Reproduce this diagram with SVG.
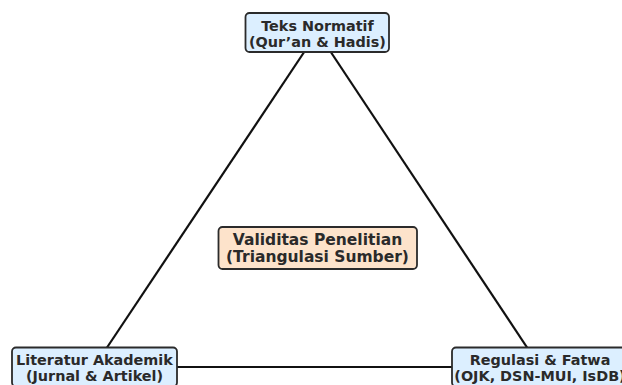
<svg xmlns="http://www.w3.org/2000/svg" width="622" height="385" viewBox="0 0 622 385">
<style>
.box{stroke:#2b2b2b;stroke-width:1.8}
.blue{fill:#dcefff}
.peach{fill:#fde3cb}
.t{font-family:"DejaVu Sans",sans-serif;font-weight:bold;font-size:14.4px;fill:#2a2a2a;text-anchor:middle}
.c{font-size:15.5px}
.edge{stroke:#111;stroke-width:2.2;fill:none}
</style>
<rect width="622" height="385" fill="#ffffff"/>
<g id="connectors">
<line class="edge" x1="317.5" y1="32" x2="94" y2="367"/>
<line class="edge" x1="317.5" y1="32" x2="540" y2="367"/>
<line class="edge" x1="94" y1="367" x2="540" y2="367"/>
</g>
<g id="node-teks">
<rect class="box blue" x="245.5" y="13" width="143.5" height="39" rx="4"/>
<text class="t" x="317.5" y="30.5">Teks Normatif</text>
<text class="t" x="317.5" y="46.5">(Qur’an &amp; Hadis)</text>
</g>
<g id="node-validitas">
<rect class="box peach" x="218.5" y="227" width="198.5" height="42" rx="4"/>
<text class="t c" x="317.5" y="245">Validitas Penelitian</text>
<text class="t c" x="317.5" y="261.5">(Triangulasi Sumber)</text>
</g>
<g id="node-literatur">
<rect class="box blue" x="12" y="347.5" width="165" height="39" rx="4"/>
<text class="t" x="94.5" y="365">Literatur Akademik</text>
<text class="t" x="94.5" y="381">(Jurnal &amp; Artikel)</text>
</g>
<g id="node-regulasi">
<rect class="box blue" x="452" y="347.5" width="176" height="39" rx="4"/>
<text class="t" x="540" y="365">Regulasi &amp; Fatwa</text>
<text class="t" x="540" y="381">(OJK, DSN-MUI, IsDB)</text>
</g>
</svg>
